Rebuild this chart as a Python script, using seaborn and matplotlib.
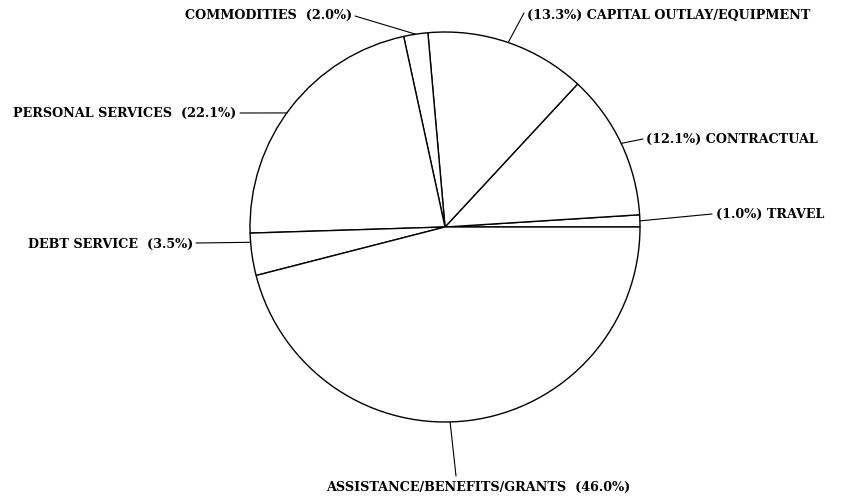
import numpy as np
import matplotlib
matplotlib.use('Agg')
import matplotlib.pyplot as plt
import seaborn as sns

# budget shares, counter-clockwise from 3 o'clock
categories = ['TRAVEL', 'CONTRACTUAL', 'CAPITAL OUTLAY/EQUIPMENT', 'COMMODITIES',
              'PERSONAL SERVICES', 'DEBT SERVICE', 'ASSISTANCE/BENEFITS/GRANTS']
shares = [1.0, 12.1, 13.3, 2.0, 22.1, 3.5, 46.0]

sns.set_style('white')
plt.rcParams['font.family'] = ['DejaVu Serif']

W, H = 853, 499
CX, CY, R = 445, 227, 195

fig = plt.figure(figsize=(W / 100, H / 100), dpi=100)
ax = fig.add_axes([(CX - R) / W, 1 - (CY + R) / H, 2 * R / W, 2 * R / H])

wedges, _ = ax.pie(shares, startangle=0, counterclock=True,
                   colors=['white'] * len(shares),
                   wedgeprops=dict(edgecolor='black', linewidth=1.0))
ax.set_xlim(-1, 1)
ax.set_ylim(-1, 1)
ax.set_aspect('auto')
ax.axis('off')


def px(x, y):
    return (x - CX) / R, (CY - y) / R


# label layout: text anchor (px), ha, leader end (px), leader angle override
layout = {
    'TRAVEL': ((716, 214), 'left', (712, 214), None),
    'CONTRACTUAL': ((646, 139), 'left', (643, 139), None),
    'CAPITAL OUTLAY/EQUIPMENT': ((527, 15), 'left', (524, 13), None),
    'COMMODITIES': ((352, 15), 'right', (355, 16), None),
    'PERSONAL SERVICES': ((236, 113), 'right', (240, 113), 144.2),
    'DEBT SERVICE': ((193, 244), 'right', (196, 243), 184.5),
    'ASSISTANCE/BENEFITS/GRANTS': ((478, 487), 'center', (456, 476), 271.5),
}

for w, name, val in zip(wedges, categories, shares):
    (tx, ty), ha, (lx, ly), ang = layout[name]
    if ang is None:
        ang = (w.theta1 + w.theta2) / 2
    a = np.deg2rad(ang)
    ex, ey = px(lx, ly)
    ax.plot([np.cos(a), ex], [np.sin(a), ey], color='black', linewidth=0.8,
            clip_on=False)
    if ha == 'left':
        text = f'({val:.1f}%) {name}'
    else:
        text = f'{name}  ({val:.1f}%)'
    x, y = px(tx, ty)
    ax.text(x, y, text, ha=ha, va='center', fontsize=9.2, fontweight='bold',
            color='black', clip_on=False)

fig.savefig('out.png', dpi=100, facecolor='white')
